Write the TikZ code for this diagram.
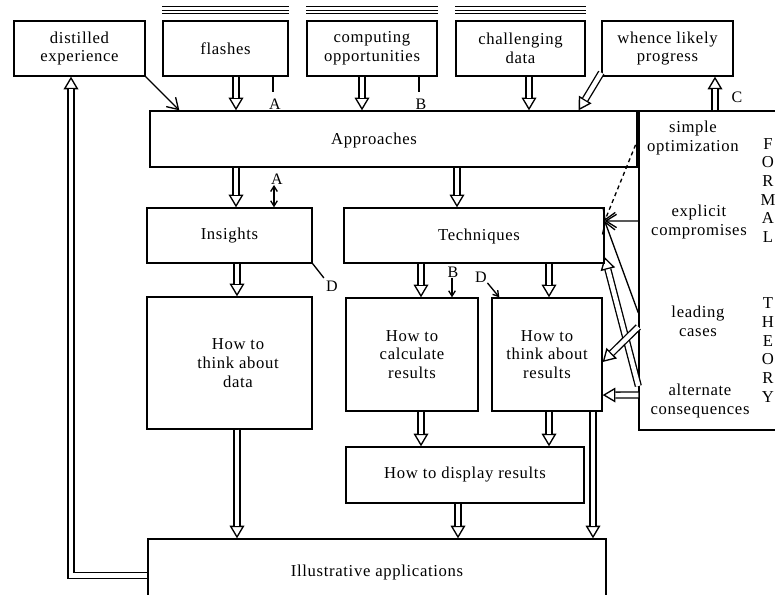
\documentclass[tikz,border=0pt]{standalone}
\usepackage{fontspec}
\setmainfont{Liberation Serif}[LetterSpace=4]
\usetikzlibrary{arrows.meta}
\newcommand\harr[1]{\draw[tipl] #1; \draw[shaft] #1;}
\begin{document}
\begin{tikzpicture}[x=0.75pt,y=-0.75pt,line width=1pt,
  font=\fontsize{12.5}{14}\selectfont,
  box/.style={draw,align=center,inner sep=0pt},
  sz/.style 2 args={minimum width=#1*0.75pt,minimum height=#2*0.75pt},
  tipl/.style={-{Triangle[open,length=9.5pt,width=11pt]}},
  shaft/.style={double,double distance=3.4pt,shorten >=9.5pt},
  barb/.style={-{Straight Barb[length=8pt,width=10pt]}},
  sbarb/.style={-{Straight Barb[length=4pt,width=5pt]}},
  lbl/.style={inner sep=0pt,font=\fontsize{12}{14}\selectfont},
  txt/.style={align=center,inner sep=0pt},
  triple/.style={line width=0.9pt}]
\useasboundingbox (0,0) rectangle (775,595);

% ---------- boxes ----------
\node[box,sz={131}{55}] (dist) at (79.5,48.5) {distilled\\experience};
\node[box,sz={125}{55}] (flash) at (225.5,48.5) {flashes};
\node[box,sz={130}{55}] (comp) at (372,48.5) {computing\\opportunities};
\node[box,sz={129}{55}] (chal) at (520.5,48.5) {challenging\\data};
\node[box,sz={131}{55}] (whence) at (667.5,48.5) {whence likely\\progress};

\node[box,sz={487}{56}] (appr) at (393.5,139) {};
\node[txt] (apprt) at (374,140) {Approaches};

\node[box,sz={165}{55}] (ins) at (229.5,235.5) {Insights};
\node[box,sz={260}{55}] (tech) at (474,235.5) {};
\node[txt] (techt) at (479,236) {Techniques};

\node[box,sz={165}{132}] (data) at (229.5,363) {};
\node[txt] (datat) at (238,363) {How to\\think about\\data};
\node[box,sz={132}{113}] (calc) at (412,354.5) {How to\\calculate\\results};
\node[box,sz={110}{113}] (tres) at (547,354.5) {How to\\think about\\results};
\node[box,sz={238}{56}] (disp) at (465,475) {How to display results};
\node[box,sz={458}{66}] (illus) at (377,572) {Illustrative applications};

\node[draw,sz={161}{319},inner sep=0pt] (theory) at (719.5,270.5) {};
\node[txt] (t1) at (693,138) {simple\\optimization};
\node[txt] (t2) at (699,222) {explicit\\compromises};
\node[txt] (t3) at (698,321) {leading\\cases};
\node[txt] (t4) at (700,401) {alternate\\consequences};
\node[txt] (formal) at (768,190.5) {F\\O\\R\\M\\A\\L};
\node[txt] (theor) at (768,350) {T\\H\\E\\O\\R\\Y};

% ---------- stacked lines above source boxes ----------
\foreach \b in {flash,comp,chal}{
  \foreach \s in {5pt,7.6pt,10.2pt}{
    \draw[triple] ([yshift=\s]\b.north west) -- ([yshift=\s]\b.north east);
  }
}

% ---------- column coordinates ----------
\coordinate (c71) at (71,0);
\coordinate (c236) at (236,0);
\coordinate (c237) at (237,0);
\coordinate (c273) at (273,0);
\coordinate (c274) at (274,0);
\coordinate (c362) at (362,0);
\coordinate (c419) at (419,0);
\coordinate (c421) at (421,0);
\coordinate (c452) at (452,0);
\coordinate (c457) at (457,0);
\coordinate (c458) at (458,0);
\coordinate (c529) at (529,0);
\coordinate (c549) at (549,0);
\coordinate (c593) at (593,0);
\coordinate (c715) at (715,0);

% points on the left edge of the theory box
\coordinate (e138) at (theory.west |- 0,138);
\coordinate (e221) at (theory.west |- 0,221);
\coordinate (e313) at (theory.west |- 0,313);
\coordinate (e327) at (theory.west |- 0,327);
\coordinate (e386) at (theory.west |- 0,386);
\coordinate (e395) at (theory.west |- 0,395);
% meeting point at Techniques
\coordinate (fan) at ([yshift=10.9pt]tech.east);

% ---------- hollow (double) arrows ----------
\harr{(c236 |- flash.south) -- (c236 |- appr.north)}
\harr{(c362 |- comp.south) -- (c362 |- appr.north)}
\harr{(c529 |- chal.south) -- (c529 |- appr.north)}
\harr{(c236 |- appr.south) -- (c236 |- ins.north)}
\harr{(c457 |- appr.south) -- (c457 |- tech.north)}
\harr{(c237 |- ins.south) -- (c237 |- data.north)}
\harr{(c421 |- tech.south) -- (c421 |- calc.north)}
\harr{(c549 |- tech.south) -- (c549 |- tres.north)}
\harr{(c421 |- calc.south) -- (c421 |- disp.north)}
\harr{(c549 |- tres.south) -- (c549 |- disp.north)}
\harr{(c458 |- disp.south) -- (c458 |- illus.north)}
\harr{(c237 |- data.south) -- (c237 |- illus.north)}
\harr{(c593 |- tres.south) -- (c593 |- illus.north)}
\harr{([yshift=-2.5pt]illus.west) -| (c71 |- dist.south)}
\harr{([yshift=3pt]whence.south west) -- ([xshift=-44.25pt]appr.north east)}
\harr{(c715 |- theory.north) -- (c715 |- whence.south)}
\harr{(e386) -- ([yshift=5pt]tech.south east)}
\harr{(e327) -- ([yshift=-5.6pt]tres.east)}
\harr{(e395) -- ([yshift=-30.4pt]tres.east)}

% ---------- thin arrows ----------
\draw[barb] (dist.south east) -- ([xshift=22.5pt]appr.north west);
\draw[barb,dash pattern=on 3pt off 2.5pt] (e138) -- (fan);
\draw[barb] (e221) -- (fan);
\draw[barb] (e313) -- (fan);

% ---------- letter marks ----------
\node[lbl,anchor=base] (A1) at (275,110) {A};
\draw (c273 |- flash.south) -- (c273 |- A1.north) [shorten >=5pt];
\node[lbl] (A2) at (277,179) {A};
\draw[{Straight Barb[length=4pt,width=5pt]}-{Straight Barb[length=4pt,width=5pt]}]
  (c274 |- A2.south) -- (c274 |- ins.north);

\node[lbl,anchor=base] (B1) at (421,110) {B};
\draw (c419 |- comp.south) -- (c419 |- B1.north) [shorten >=5pt];
\node[lbl] (B2) at (453,272) {B};
\draw[sbarb] (c452 |- B2.south) -- (c452 |- calc.north);

\node[lbl] (D1) at (332,286) {D};
\draw (ins.south east) -- (D1.north west) [shorten >=2pt];
\node[lbl] (D2) at (481,277) {D};
\draw[sbarb] (D2.south east) -- ([xshift=6pt]tres.north west);

\node[lbl] (C) at (737,97) {C};
\end{tikzpicture}
\end{document}
